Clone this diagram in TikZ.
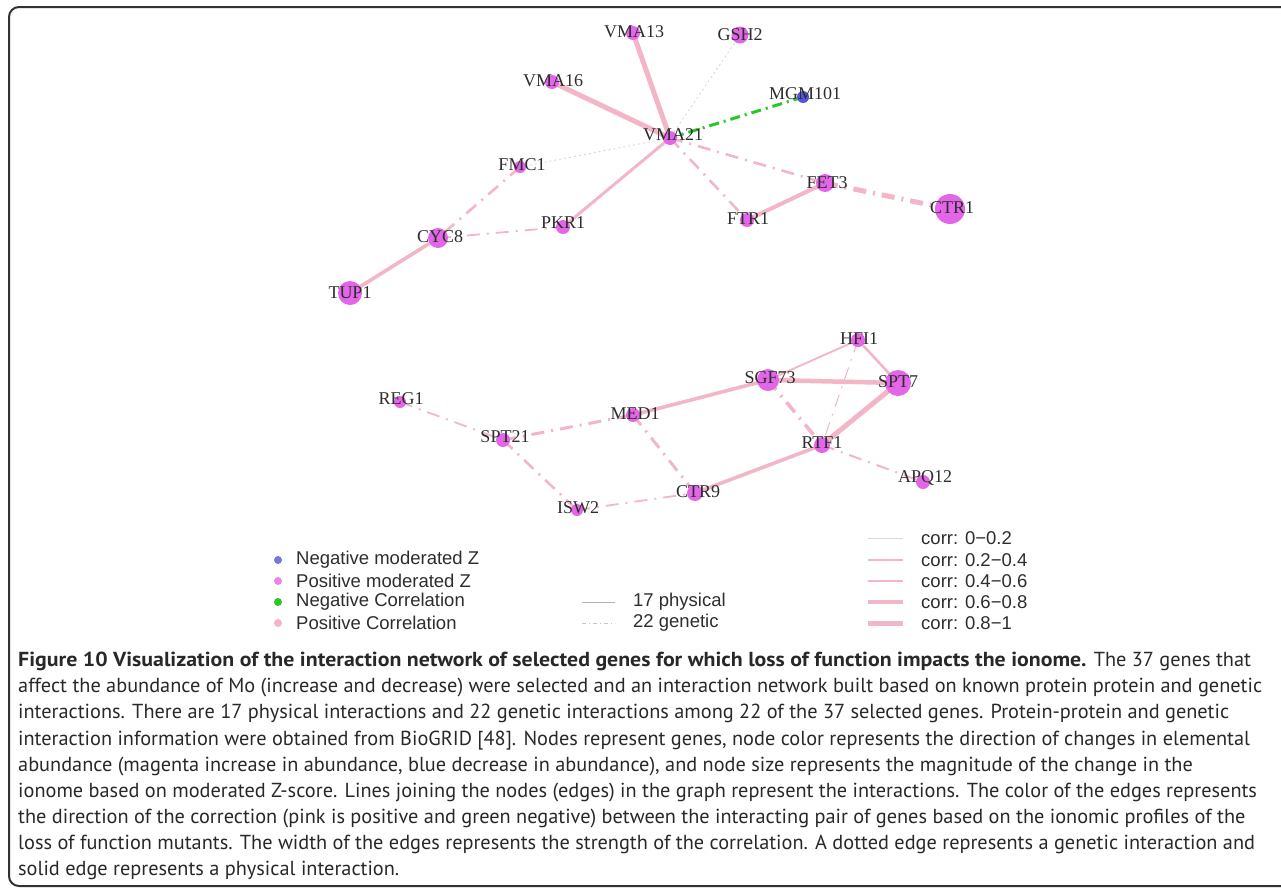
\documentclass[tikz,border=0pt]{standalone}
\usepackage{fontspec}
\setmainfont{Liberation Serif}
\newfontfamily\legendfont{Liberation Sans}
\newfontfamily\captionfont{PT Sans}[BoldFeatures={FakeStretch=1.076}]
\usetikzlibrary{backgrounds}
\definecolor{posz}{RGB}{228,102,232}
\definecolor{negz}{RGB}{84,84,214}
\definecolor{poscor}{RGB}{242,182,198}
\definecolor{negcor}{RGB}{40,200,40}
\definecolor{weakcor}{RGB}{218,214,218}
\definecolor{labeltext}{RGB}{45,45,45}
\definecolor{captext}{RGB}{40,40,40}
\definecolor{frameline}{RGB}{50,50,50}
\tikzstyle{genename} = [font=\fontsize{18}{18}\selectfont, text=labeltext, inner sep=0pt]
\tikzstyle{legendtext} = [font=\legendfont\fontsize{18.5}{18.5}\selectfont, text=labeltext,
                     anchor=west, inner sep=0pt]
\tikzstyle{dot} = [circle, inner sep=0pt, minimum size=8pt]

\begin{document}
\begin{tikzpicture}[x=1pt, y=-1pt,
gene/.style={circle, fill=posz, inner sep=0pt, minimum size=#1}, gene/.default=14pt,
phys/.style={draw=poscor, line width=#1},
gen/.style={draw=poscor, line width=#1, dash pattern=on 13pt off 7pt on 2pt off 7pt},
neg/.style={draw=negcor, line width=#1, dash pattern=on 10pt off 5pt on 2pt off 5pt},
weak/.style={draw=weakcor, line width=0.9pt, dash pattern=on 2pt off 3pt}]
\useasboundingbox (0,0) rectangle (1281,889);
%frame
\draw[frameline, line width=2pt, rounded corners=10pt] (1300,7) -- (9,7) -- (9,886) -- (1300,886);

%Top network
\node[gene] at (633,33) (vma13){};
\node[gene] at (552,82) (vma16){};
\node[gene] at (670,138) (vma21){};
\node[gene=17pt] at (740,35) (gsh2){};
\node[gene=12pt, fill=negz] at (803,97) (mgm101){};
\node[gene=12pt] at (520,167) (fmc1){};
\node[gene] at (563,227) (pkr1){};
\node[gene=20pt] at (438,238) (cyc8){};
\node[gene=24pt] at (350,293) (tup1){};
\node[gene=18pt] at (825,183) (fet3){};
\node[gene] at (747,220) (ftr1){};
\node[gene=30pt] at (950,209) (ctr1){};

%Bottom network
\node[gene=12pt] at (400,402) (reg1){};
\node[gene] at (503,440) (spt21){};
\node[gene] at (633,415) (med1){};
\node[gene=12pt] at (577,510) (isw2){};
\node[gene=16pt] at (695,493) (ctr9){};
\node[gene] at (858,340) (hfi1){};
\node[gene=22pt] at (768,380) (sgf73){};
\node[gene=26pt] at (898,383) (spt7){};
\node[gene=16pt] at (822,445) (rtf1){};
\node[gene] at (923,482) (apq12){};

%Edges
\begin{scope}[on background layer]
\draw[phys=5pt] (vma13.center) -- (vma21.center);
\draw[phys=5pt] (vma16.center) -- (vma21.center);
\draw[weak] (gsh2.center) -- (vma21.center);
\draw[neg=3pt] (mgm101.center) -- (vma21.center);
\draw[weak] (fmc1.center) -- (vma21.center);
\draw[phys=3pt] (pkr1.center) -- (vma21.center);
\draw[gen=2.6pt] (vma21.center) -- (fet3.center);
\draw[gen=2.6pt] (vma21.center) -- (ftr1.center);
\draw[phys=4pt] (ftr1.center) -- (fet3.center);
\draw[gen=5pt] (fet3.center) -- (ctr1.center);
\draw[gen=2.6pt] (fmc1.center) -- (cyc8.center);
\draw[gen=1.8pt] (cyc8.center) -- (pkr1.center);
\draw[phys=3.6pt] (cyc8.center) -- (tup1.center);
\draw[gen=1.8pt] (reg1.center) -- (spt21.center);
\draw[gen=3pt] (spt21.center) -- (med1.center);
\draw[gen=2.6pt] (spt21.center) -- (isw2.center);
\draw[phys=3.6pt] (med1.center) -- (sgf73.center);
\draw[gen=3pt] (med1.center) -- (ctr9.center);
\draw[gen=1.8pt] (isw2.center) -- (ctr9.center);
\draw[phys=3.6pt] (ctr9.center) -- (rtf1.center);
\draw[phys=1.8pt] (sgf73.center) -- (hfi1.center);
\draw[phys=4.5pt] (sgf73.center) -- (spt7.center);
\draw[phys=2.6pt] (hfi1.center) -- (spt7.center);
\draw[gen=1pt] (hfi1.center) -- (rtf1.center);
\draw[gen=3.6pt] (sgf73.center) -- (rtf1.center);
\draw[phys=5pt] (spt7.center) -- (rtf1.center);
\draw[gen=2pt] (rtf1.center) -- (apq12.center);
\end{scope}

%Gene names
\node[genename] at (634,32) (vma13-l){VMA13};
\node[genename] at (553,81) (vma16-l){VMA16};
\node[genename] at (673,135) (vma21-l){VMA21};
\node[genename] at (740,35) (gsh2-l){GSH2};
\node[genename] at (805,94) (mgm101-l){MGM101};
\node[genename] at (522,165) (fmc1-l){FMC1};
\node[genename] at (563,223) (pkr1-l){PKR1};
\node[genename] at (440,237) (cyc8-l){CYC8};
\node[genename] at (350,293) (tup1-l){TUP1};
\node[genename] at (827,183) (fet3-l){FET3};
\node[genename] at (748,219) (ftr1-l){FTR1};
\node[genename] at (952,208) (ctr1-l){CTR1};
\node[genename] at (401,399) (reg1-l){REG1};
\node[genename] at (505,437) (spt21-l){SPT21};
\node[genename] at (635,414) (med1-l){MED1};
\node[genename] at (578,508) (isw2-l){ISW2};
\node[genename] at (698,492) (ctr9-l){CTR9};
\node[genename] at (859,339) (hfi1-l){HFI1};
\node[genename] at (770,378) (sgf73-l){SGF73};
\node[genename] at (898,382) (spt7-l){SPT7};
\node[genename] at (822,443) (rtf1-l){RTF1};
\node[genename] at (925,478) (apq12-l){APQ12};

%Legend
\node[dot, fill=negz!80] at (278,560) (dotnegz){};
\node[legendtext] at (296,560) (negzlab){Negative moderated Z};
\node[dot, fill=posz!80] at (278,581) (dotposz){};
\node[legendtext] at (296,581) (poszlab){Positive moderated Z};
\node[dot, fill=negcor] at (278,602) (dotnegc){};
\node[legendtext] at (296,602) (negclab){Negative Correlation};
\node[dot, fill=poscor] at (278,623) (dotposc){};
\node[legendtext] at (296,623) (posclab){Positive Correlation};

\draw[gray!60, line width=0.8pt] (582,602) -- (615,602);
\node[legendtext] at (633,602) (physlab){17 physical};
\draw[gray!45, line width=0.8pt, dash pattern=on 4pt off 3pt on 1pt off 3pt] (582,623) -- (615,623);
\node[legendtext] at (633,623) (genlab){22 genetic};

\foreach \w/\y/\t [count=\i] in {1/538/0−0.2, 1.8/560/0.2−0.4, 2.6/581/0.4−0.6, 3.6/602/0.6−0.8, 5/623/0.8−1}{
  \ifnum\i=1 \draw[weakcor, line width=\w pt] (868,\y) -- (903,\y);
  \else \draw[poscor, line width=\w pt] (868,\y) -- (903,\y); \fi
  \node[legendtext] at (921,\y) (corr\i){corr: \t};
}

%Caption
\node[anchor=north west, align=left, inner sep=0pt, text=captext,
      font=\captionfont\fontsize{20.3}{26.1}\selectfont] at (18,652) (caption)
{\textbf{Figure 10 Visualization of the interaction network of selected genes for which loss of function impacts the ionome.} The 37 genes that\\
affect the abundance of Mo (increase and decrease) were selected and an interaction network built based on known protein protein and genetic\\
interactions. There are 17 physical interactions and 22 genetic interactions among 22 of the 37 selected genes. Protein-protein and genetic\\
interaction information were obtained from BioGRID [48]. Nodes represent genes, node color represents the direction of changes in elemental\\
abundance (magenta increase in abundance, blue decrease in abundance), and node size represents the magnitude of the change in the\\
ionome based on moderated Z-score. Lines joining the nodes (edges) in the graph represent the interactions. The color of the edges represents\\
the direction of the correction (pink is positive and green negative) between the interacting pair of genes based on the ionomic profiles of the\\
loss of function mutants. The width of the edges represents the strength of the correlation. A dotted edge represents a genetic interaction and\\
solid edge represents a physical interaction.};

\end{tikzpicture}
\end{document}
